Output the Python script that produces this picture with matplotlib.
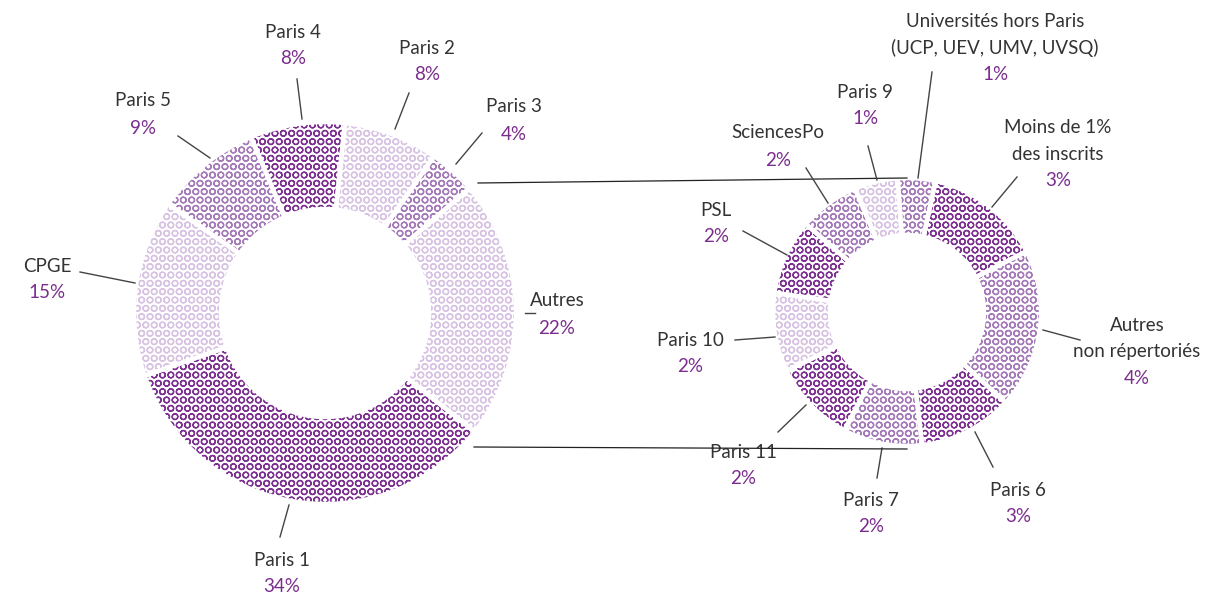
import matplotlib
matplotlib.use('Agg')
import matplotlib.pyplot as plt

plt.rcParams['font.family'] = ['Lato', 'DejaVu Sans']
plt.rcParams['hatch.linewidth'] = 0.95

# left donut: all students, clockwise from top
left_names = ['Paris 2', 'Paris 3', 'Autres', 'Paris 1', 'CPGE', 'Paris 5', 'Paris 4']
left_pct = [8, 4, 22, 34, 15, 9, 8]
left_shade = ['light', 'medium', 'light', 'dark', 'light', 'medium', 'dark']

# right donut: breakdown of "Autres", clockwise from top
right_names = ['Universités hors Paris\n(UCP, UEV, UMV, UVSQ)', 'Moins de 1%\ndes inscrits',
               'Autres\nnon répertoriés', 'Paris 6', 'Paris 7', 'Paris 11', 'Paris 10',
               'PSL', 'SciencesPo', 'Paris 9']
right_pct = [1, 3, 4, 3, 2, 2, 2, 2, 2, 1]
right_share = [1.0, 3.1, 4.25, 2.5, 2.1, 2.2, 2.1, 2.0, 1.6, 1.15]
right_shade = ['medium', 'dark', 'medium', 'dark', 'medium', 'dark', 'light',
               'dark', 'medium', 'light']

shades = {'dark': '#7d3190', 'medium': '#a47ab8', 'light': '#d8c3e3'}
text_col = '#333333'
pct_col = '#7b2d8e'

W, H = 1205, 595
fig = plt.figure(figsize=(W / 100, H / 100), dpi=100)
ax = fig.add_axes([0, 0, 1, 1])


def py(y):
    return H - y


def donut(values, shade, center, r_out, r_in, start):
    cols = [shades[s] for s in shade]
    wedges, _ = ax.pie(values, center=center, radius=r_out, startangle=start,
                       counterclock=False, wedgeprops=dict(width=r_out - r_in))
    for w, c in zip(wedges, cols):
        w.set_facecolor('white')
        w.set_edgecolor(c)
        w.set_linewidth(0)
        w.set_hatch('OO')
    ax.pie(values, center=center, radius=r_out, startangle=start,
           counterclock=False,
           wedgeprops=dict(width=r_out - r_in, facecolor='none',
                           edgecolor='white', linewidth=3.2))


donut(left_pct, left_shade, (325, py(313)), 191, 104, 84)
donut(right_share, right_shade, (907, py(312)), 134, 77, 94)

ax.set_xlim(0, W)
ax.set_ylim(0, H)
ax.set_aspect('equal')
ax.axis('off')

# connecting lines between the two donuts
ax.plot([478, 907], [py(183), py(178)], color='#222222', lw=0.9)
ax.plot([474, 907], [py(447), py(449)], color='#222222', lw=0.9, zorder=5)

# label positions: (name_x, name_y of last name line, leader line)
left_labels = {
    'Paris 2': ((427, 48), [(409, 93), (395, 129)]),
    'Paris 3': ((514, 107), [(482, 133), (456, 164)]),
    'Autres': ((557, 301), [(525, 313), (535, 313)]),
    'Paris 1': ((282, 560), [(289, 505), (280, 537)]),
    'CPGE': ((47, 266), [(80, 272), (135, 283)]),
    'Paris 5': ((143, 101), [(178, 136), (210, 158)]),
    'Paris 4': ((293, 32), [(297, 79), (302, 119)]),
}
right_labels = {
    right_names[0]: ((995, 48), [(932, 72), (918, 178)]),
    right_names[1]: ((1058, 154), [(1017, 177), (992, 207)]),
    right_names[2]: ((1137, 352), [(1043, 330), (1080, 340)]),
    'Paris 6': ((1018, 490), [(993, 467), (975, 432)]),
    'Paris 7': ((871, 500), [(877, 478), (882, 448)]),
    'Paris 11': ((743, 452), [(778, 432), (806, 405)]),
    'Paris 10': ((690, 340), [(735, 340), (775, 337)]),
    'PSL': ((716, 210), [(743, 231), (787, 255)]),
    'SciencesPo': ((778, 133), [(806, 168), (828, 203)]),
    'Paris 9': ((865, 92), [(868, 146), (877, 180)]),
}


def put_labels(names, pcts, pos):
    for name, p in zip(names, pcts):
        (x, y), line = pos[name]
        lines = name.split('\n')
        for k, t in enumerate(lines):
            ax.text(x, py(y - 26.5 * (len(lines) - 1 - k)), t, ha='center',
                    va='center', fontsize=13.5, color=text_col)
        ax.text(x, py(y + 27), f'{p}%', ha='center', va='center',
                fontsize=13.5, color=pct_col)
        ax.plot([line[0][0], line[1][0]], [py(line[0][1]), py(line[1][1])],
                color='#444444', lw=1.0)


put_labels(left_names, left_pct, left_labels)
put_labels(right_names, right_pct, right_labels)

fig.savefig('out.png', dpi=100)
